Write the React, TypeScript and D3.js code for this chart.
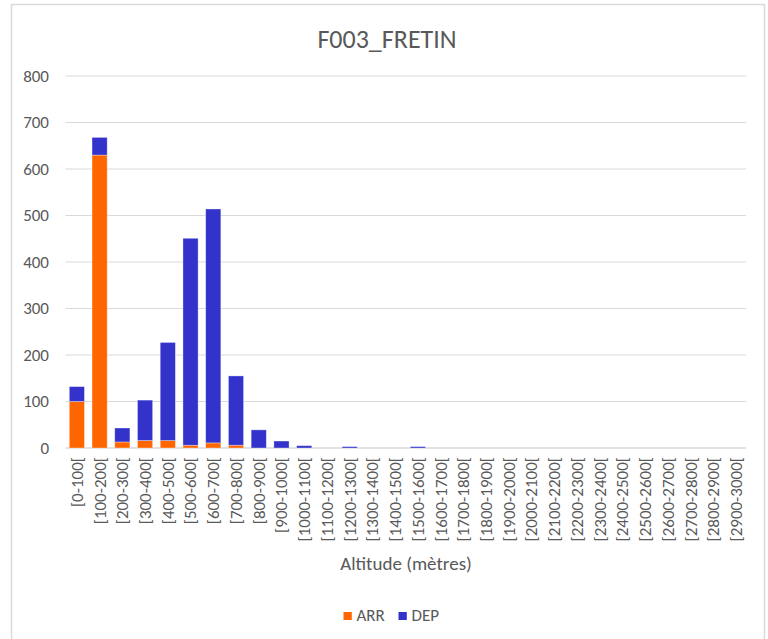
import React from "react";
import * as d3 from "d3";

const categories = [
  "[0-100[", "[100-200[", "[200-300[", "[300-400[", "[400-500[", "[500-600[",
  "[600-700[", "[700-800[", "[800-900[", "[900-1000[", "[1000-1100[", "[1100-1200[",
  "[1200-1300[", "[1300-1400[", "[1400-1500[", "[1500-1600[", "[1600-1700[", "[1700-1800[",
  "[1800-1900[", "[1900-2000[", "[2000-2100[", "[2100-2200[", "[2200-2300[", "[2300-2400[",
  "[2400-2500[", "[2500-2600[", "[2600-2700[", "[2700-2800[", "[2800-2900[", "[2900-3000[",
];
const arr = [100, 630, 13, 16, 16, 6, 11, 6, 0, 0, 0, 0, 0, 0, 0, 0, 0, 0, 0, 0, 0, 0, 0, 0, 0, 0, 0, 0, 0, 0];
const dep = [32, 38, 30, 87, 211, 445, 503, 149, 39, 15, 5, 0, 3, 0, 0, 3, 0, 0, 0, 0, 0, 0, 0, 0, 0, 0, 0, 0, 0, 0];
const yTicks = [0, 100, 200, 300, 400, 500, 600, 700, 800];
const seriesNames = ["ARR", "DEP"];
const colors = ["#FF6600", "#3333CC"];

const FONT = "Carlito, Calibri, 'Open Sans', sans-serif";
const TXT = "#595959";

export default function App() {
  const W = 768, H = 639;
  const x = d3.scaleBand<string>().domain(categories).range([65.5, 747.5]).paddingInner(1 / 3).paddingOuter(1 / 6);
  const y = d3.scaleLinear().domain([0, 800]).range([448, 76]);
  const rows = categories.map((c, i) => ({ c, ARR: arr[i], DEP: dep[i] }));
  const stacked = d3.stack<any>().keys(seriesNames)(rows);
  const [x0, x1] = [65.5, 746];

  return (
    <svg width={W} height={H} style={{ position: "absolute", left: 0, top: 0, background: "#fff" }} fontFamily={FONT}>
      <rect x={11.5} y={4.5} width={753} height={H + 10} fill="#fff" stroke="#D9D9D9" strokeWidth={1.5} />
      <text x={387} y={48} textAnchor="middle" fontSize={26} fill={TXT}>F003_FRETIN</text>
      {yTicks.map((t) => (
        <g key={t}>
          <line x1={x0} x2={x1} y1={y(t)} y2={y(t)} stroke="#D9D9D9" strokeWidth={t === 0 ? 1.5 : 1} />
          <text x={49} y={y(t)} dy="0.35em" textAnchor="end" fontSize={17} fill={TXT}>{t}</text>
        </g>
      ))}
      {stacked.map((s, si) => (
        <g key={s.key} fill={colors[si]}>
          {s.map((d, i) => {
            const h = y(d[0]) - y(d[1]);
            if (h <= 0) return null;
            return (
              <rect key={i} x={x(categories[i])} y={y(d[1])} width={x.bandwidth()} height={h}
                stroke="#ffffff" strokeOpacity={0.45} strokeWidth={0.75} />
            );
          })}
        </g>
      ))}
      {categories.map((c) => (
        <text key={c} transform={`translate(${(x(c) as number) + x.bandwidth() / 2},457) rotate(-90)`}
          textAnchor="end" dy="0.35em" fontSize={17} fill={TXT}>{c}</text>
      ))}
      <text x={406} y={569.5} textAnchor="middle" fontSize={19} fill={TXT}>Altitude (mètres)</text>
      <g>
        {seriesNames.map((n, i) => {
          const lx = i === 0 ? 343.5 : 398.5;
          return (
            <g key={n}>
              <rect x={lx} y={612} width={8.3} height={8} fill={colors[i]} />
              <text x={lx + 13} y={621} fontSize={17} fill={TXT}>{n}</text>
            </g>
          );
        })}
      </g>
    </svg>
  );
}
